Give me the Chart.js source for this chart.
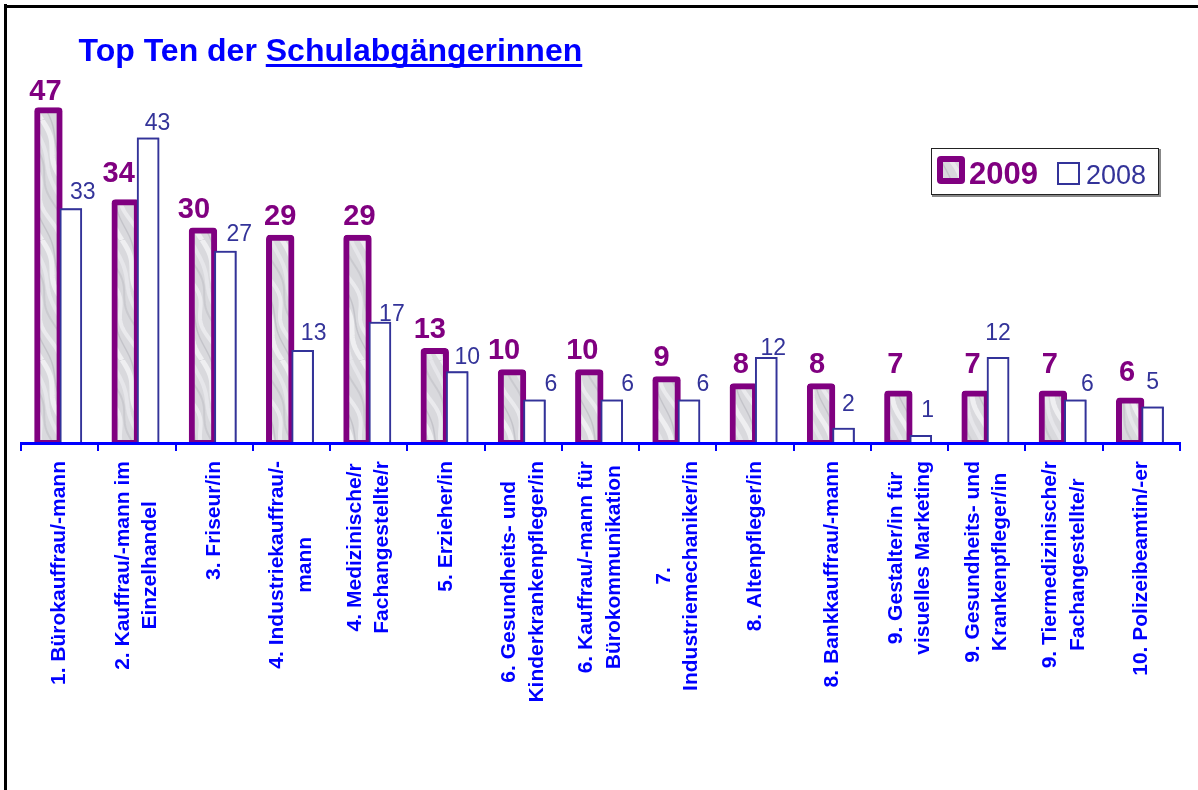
<!DOCTYPE html>
<html>
<head>
<meta charset="utf-8">
<script src="https://cdn.jsdelivr.net/npm/chart.js@4/dist/chart.umd.min.js"></script>
<style>
html,body{margin:0;padding:0;background:#fff;overflow:hidden}
canvas{display:block}
</style>
</head>
<body>
<canvas id="c" width="1198" height="790"></canvas>
<script>
// ---- data ----
const categories = [
  ["1. Bürokauffrau/-mann"],
  ["2. Kauffrau/-mann im", "Einzelhandel"],
  ["3. Friseur/in"],
  ["4. Industriekauffrau/-", "mann"],
  ["4. Medizinische/r", "Fachangestellte/r"],
  ["5. Erzieher/in"],
  ["6. Gesundheits- und", "Kinderkrankenpfleger/in"],
  ["6. Kauffrau/-mann für", "Bürokommunikation"],
  ["7.", "Industriemechaniker/in"],
  ["8. Altenpfleger/in"],
  ["8. Bankkauffrau/-mann"],
  ["9. Gestalter/in für", "visuelles Marketing"],
  ["9. Gesundheits- und", "Krankenpfleger/in"],
  ["9. Tiermedizinische/r", "Fachangestellte/r"],
  ["10. Polizeibeamtin/-er"]
];
const values2009 = [47, 34, 30, 29, 29, 13, 10, 10, 9, 8, 8, 7, 7, 7, 6];
const values2008 = [33, 43, 27, 13, 17, 10, 6, 6, 6, 12, 2, 1, 12, 6, 5];
const seriesNames = ["2009", "2008"];
const titlePlain = "Top Ten der ";
const titleUnderlined = "Schulabgängerinnen";

// ---- value-label placement (offsets relative to each bar, in px) ----
const label2009DX = [-3, -7, -9, 0, 2, -5, -8, -7, -5, -3, -4, -3, -3, -3, -3];
const label2009Gap = [7, 17, 10, 10, 10, 10, 10, 10, 10, 10, 10, 17, 17, 17, 17];
const label2008DX = [12, 9.5, 14, 11, 12, 10, 16.5, 16, 14, 7, 5, 7, 0, 12, 0];
const label2008Gap = [9, 7.5, 10, 10, 1, 7, 9, 9, 9, 2, 17, 18, 17, 9, 18];

// ---- styles ----
const FONT = '"Liberation Sans", Arial, Helvetica, sans-serif';
const PURPLE = '#800080';
const NAVY = '#333399';
const BLUE = '#0000ff';

function makeMarble() {
  const p = document.createElement('canvas');
  p.width = 40; p.height = 120;
  const g = p.getContext('2d');
  g.fillStyle = '#d9d9dd';
  g.fillRect(0, 0, 40, 120);
  const streaks = [
    {base: 2, amp: 3, ph: 0.0, col: 'rgba(250,250,252,0.65)', w: 5},
    {base: 9, amp: 2, ph: 1.3, col: 'rgba(150,150,158,0.30)', w: 1.5},
    {base: 17, amp: 4, ph: 2.1, col: 'rgba(245,245,248,0.6)', w: 4},
    {base: 26, amp: 3, ph: 3.7, col: 'rgba(160,160,168,0.25)', w: 2},
    {base: 33, amp: 2, ph: 5.0, col: 'rgba(240,240,244,0.55)', w: 4}
  ];
  streaks.forEach(s => {
    g.strokeStyle = s.col; g.lineWidth = s.w;
    [-40, 0, 40].forEach(off => {
      g.beginPath();
      for (let y = 0; y <= 120; y += 2) {
        const x = off + s.base + y / 3 + s.amp * Math.sin(2 * Math.PI * y / 60 + s.ph);
        if (y === 0) g.moveTo(x, y); else g.lineTo(x, y);
      }
      g.stroke();
    });
  });
  return p;
}

const canvas = document.getElementById('c');
const ctx = canvas.getContext('2d');
const marble = ctx.createPattern(makeMarble(), 'repeat');

const decorPlugin = {
  id: 'decor',
  beforeDraw(chart) {
    const c = chart.ctx;
    c.save();
    c.fillStyle = '#ffffff';
    c.fillRect(0, 0, chart.width, chart.height);
    // frame
    c.fillStyle = '#000000';
    c.fillRect(4, 4, 3, chart.height - 4);
    c.fillRect(4, 5, chart.width - 4, 3);
    // title
    c.font = 'bold 32px ' + FONT;
    c.fillStyle = BLUE;
    c.textBaseline = 'alphabetic';
    c.textAlign = 'left';
    const tx = 78.5, ty = 61;
    c.fillText(titlePlain, tx, ty);
    const w1 = c.measureText(titlePlain).width;
    c.fillText(titleUnderlined, tx + w1, ty);
    const w2 = c.measureText(titleUnderlined).width;
    c.fillRect(tx + w1, ty + 3, w2, 3);
    c.restore();
  },
  afterDatasetsDraw(chart) {
    const c = chart.ctx;
    const a = chart.chartArea;
    // 2008 bars on top of the overlapping 2009 bars
    c.save();
    c.beginPath();
    c.rect(a.left, a.top - 5, a.right - a.left, a.bottom - a.top + 5);
    c.clip();
    chart.getDatasetMeta(1).controller.draw();
    c.restore();
    // value labels
    const m0 = chart.getDatasetMeta(0), m1 = chart.getDatasetMeta(1);
    c.save();
    c.textBaseline = 'alphabetic';
    c.textAlign = 'center';
    c.font = 'bold 29px ' + FONT;
    c.fillStyle = PURPLE;
    m0.data.forEach((el, i) => c.fillText(String(values2009[i]), el.x + label2009DX[i], el.y - 3 - label2009Gap[i]));
    c.font = '23px ' + FONT;
    c.fillStyle = NAVY;
    m1.data.forEach((el, i) => c.fillText(String(values2008[i]), el.x + label2008DX[i], el.y - 1 - label2008Gap[i]));
    c.restore();
  },
  afterDraw(chart) {
    const c = chart.ctx;
    const xs = chart.scales.x;
    // category labels (rotated, centered block)
    c.save();
    c.font = 'bold 21px ' + FONT;
    c.fillStyle = BLUE;
    c.textAlign = 'center';
    c.textBaseline = 'middle';
    const lh = 27.6;
    const top = xs.top + 18;
    categories.forEach((lines, i) => {
      const cx = xs.getPixelForValue(i);
      const maxW = Math.max(...lines.map(l => c.measureText(l).width));
      c.save();
      c.translate(cx, top + maxW / 2);
      c.rotate(-Math.PI / 2);
      lines.forEach((l, j) => c.fillText(l, 0, (j - (lines.length - 1) / 2) * lh));
      c.restore();
    });
    c.restore();

    // legend
    c.save();
    c.fillStyle = '#ffffff';
    c.fillRect(931, 148, 228, 47);
    c.strokeStyle = '#888888';
    c.lineWidth = 2;
    c.beginPath();
    c.moveTo(1160, 149); c.lineTo(1160, 196); c.lineTo(932, 196);
    c.stroke();
    c.strokeStyle = '#222222';
    c.lineWidth = 1;
    c.strokeRect(931.5, 148.5, 227, 46);
    // 2009 swatch
    c.fillStyle = PURPLE;
    c.beginPath();
    c.roundRect(937, 156, 28, 28, 4);
    c.fill();
    c.fillStyle = marble;
    c.fillRect(943, 162, 16, 16);
    c.font = 'bold 31px ' + FONT;
    c.fillStyle = PURPLE;
    c.textBaseline = 'alphabetic';
    c.textAlign = 'left';
    c.fillText(seriesNames[0], 969, 184);
    // 2008 swatch
    c.fillStyle = '#ffffff';
    c.fillRect(1058, 163, 21, 21);
    c.strokeStyle = NAVY;
    c.lineWidth = 2;
    c.strokeRect(1058, 163, 21, 21);
    c.font = '27px ' + FONT;
    c.fillStyle = NAVY;
    c.fillText(seriesNames[1], 1086, 184);
    c.restore();
  }
};

new Chart(ctx, {
  type: 'bar',
  data: {
    labels: categories.map(l => l.join(' ')),
    datasets: [
      {
        label: seriesNames[0],
        data: values2009,
        backgroundColor: marble,
        borderColor: PURPLE,
        borderWidth: 6,
        borderRadius: 4,
        borderSkipped: false,
        inflateAmount: 3,
        barPercentage: 1.0,
        categoryPercentage: 0.58,
        clip: 0
      },
      {
        label: seriesNames[1],
        data: values2008,
        backgroundColor: '#ffffff',
        borderColor: NAVY,
        borderWidth: 2,
        borderSkipped: false,
        inflateAmount: 1,
        barPercentage: 0.92,
        categoryPercentage: 0.58,
        clip: 0
      }
    ]
  },
  options: {
    responsive: false,
    animation: false,
    devicePixelRatio: 1,
    events: [],
    layout: {padding: {left: 21, right: 18, top: 89, bottom: 339}},
    plugins: {
      legend: {display: false},
      title: {display: false},
      tooltip: {enabled: false}
    },
    scales: {
      x: {
        offset: true,
        grid: {offset: true, drawOnChartArea: false, drawTicks: true, tickLength: 8, color: BLUE, lineWidth: 2, z: 1},
        border: {display: true, color: BLUE, width: 3, z: 1},
        ticks: {display: false}
      },
      y: {display: false, min: 0, max: 50}
    }
  },
  plugins: [decorPlugin]
});
</script>
</body>
</html>
